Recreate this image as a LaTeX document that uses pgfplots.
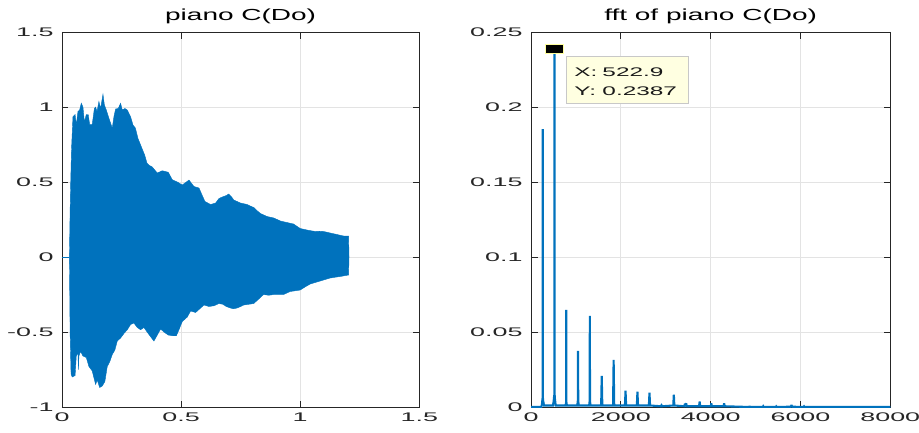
\documentclass[border=0pt]{standalone}
\usepackage{pgfplots}
\pgfplotsset{compat=1.18}
\usepackage{fontspec}
\setmainfont[FakeStretch=1.75]{Liberation Sans}
\newfontfamily\tickfont[FakeStretch=2.15]{Liberation Sans}
\newfontfamily\tipfont[FakeStretch=1.95]{Liberation Sans}

\definecolor{mblue}{HTML}{0072BD}
\definecolor{maxis}{HTML}{262626}
\definecolor{mgrid}{HTML}{E3E3E3}
\definecolor{tipbg}{HTML}{FFFFE1}
\definecolor{tipedge}{HTML}{C8C8C8}

\pgfplotsset{
  matlabstyle/.style={
    scale only axis,
    axis line style={color=maxis, line width=0.9pt},
    tick style={color=maxis, line width=0.9pt},
    major tick length=6.5pt,
    tick align=inside,
    tick pos=both,
    grid=major,
    major grid style={color=mgrid, line width=0.8pt},
    scaled ticks=false,
    /pgf/number format/assume math mode=true,
    /pgf/number format/1000 sep={},
    tick label style={font=\tickfont\fontsize{12.5}{13}\selectfont, color=maxis},
    xticklabel style={yshift=-2pt},
    yticklabel style={xshift=-5pt},
    title style={font=\fontsize{16}{17}\selectfont, color=black, yshift=-1pt},
  }
}

\begin{document}
\begin{tikzpicture}
\useasboundingbox (-62pt,-25pt) rectangle (857pt,407pt);

% ---- time-domain signal (envelope of the waveform) ----
\begin{axis}[matlabstyle,
  at={(0pt,0pt)}, anchor=south west,
  width=357.3pt, height=375pt,
  xmin=0, xmax=1.5, ymin=-1, ymax=1.5,
  xtick={0,0.5,1,1.5}, ytick={-1,-0.5,0,0.5,1,1.5},
  title={piano C(Do)}]
\addplot[mblue, line width=1pt] coordinates {(0,0) (0.031,0)};
\addplot[draw=mblue, fill=mblue, line width=0.4pt] coordinates {
 (0.031,0) (0.034,0.30) (0.036,0.46) (0.040,0.72) (0.046,0.935) (0.055,0.95)
 (0.060,0.88) (0.067,0.97) (0.074,0.98) (0.081,1.025) (0.088,1.00) (0.094,0.90)
 (0.102,0.95) (0.110,0.95) (0.116,0.885) (0.127,0.885) (0.136,0.99) (0.141,1.00)
 (0.147,0.97) (0.155,1.037) (0.162,0.99) (0.172,1.085) (0.178,1.013) (0.186,0.98)
 (0.197,0.925) (0.211,0.86) (0.218,0.935) (0.225,0.987) (0.236,0.99) (0.246,1.025)
 (0.253,0.98) (0.264,0.99) (0.274,0.98) (0.288,0.935) (0.298,0.88) (0.308,0.86)
 (0.319,0.79) (0.333,0.735) (0.347,0.68) (0.357,0.625) (0.367,0.61) (0.379,0.60)
 (0.400,0.56) (0.421,0.575) (0.446,0.565) (0.463,0.515) (0.484,0.50) (0.505,0.48)
 (0.522,0.50) (0.533,0.513) (0.554,0.47) (0.575,0.46) (0.600,0.37) (0.624,0.35)
 (0.645,0.36) (0.659,0.39) (0.673,0.40) (0.690,0.41) (0.700,0.42) (0.712,0.40)
 (0.721,0.38) (0.735,0.37) (0.749,0.36) (0.763,0.355) (0.777,0.35) (0.790,0.34)
 (0.805,0.33) (0.818,0.31) (0.833,0.29) (0.847,0.28) (0.861,0.27) (0.875,0.265)
 (0.889,0.26) (0.903,0.25) (0.917,0.24) (0.930,0.235) (0.944,0.23) (0.958,0.225)
 (0.972,0.22) (0.986,0.205) (1.000,0.19) (1.014,0.185) (1.028,0.18) (1.045,0.175)
 (1.063,0.17) (1.080,0.172) (1.098,0.17) (1.112,0.165) (1.126,0.16) (1.140,0.155)
 (1.154,0.15) (1.168,0.145) (1.182,0.14) (1.203,0.14)
 (1.205,0.00)
 (1.203,-0.12) (1.185,-0.125) (1.168,-0.13) (1.146,-0.135) (1.126,-0.14) (1.105,-0.15)
 (1.084,-0.16) (1.063,-0.17) (1.042,-0.18) (1.020,-0.20) (1.000,-0.22) (0.980,-0.225)
 (0.958,-0.23) (0.944,-0.24) (0.930,-0.25) (0.910,-0.25) (0.889,-0.25) (0.868,-0.255)
 (0.846,-0.25) (0.826,-0.28) (0.805,-0.31) (0.785,-0.315) (0.763,-0.32) (0.750,-0.33)
 (0.735,-0.34) (0.720,-0.345) (0.707,-0.34) (0.690,-0.33) (0.675,-0.315) (0.659,-0.31)
 (0.638,-0.325) (0.617,-0.33) (0.596,-0.32) (0.575,-0.35) (0.561,-0.37) (0.540,-0.36)
 (0.526,-0.40) (0.505,-0.43) (0.491,-0.485) (0.480,-0.525) (0.463,-0.525) (0.446,-0.52)
 (0.428,-0.50) (0.414,-0.48) (0.400,-0.52) (0.386,-0.56) (0.376,-0.54) (0.362,-0.51)
 (0.344,-0.47) (0.330,-0.485) (0.316,-0.47) (0.302,-0.44) (0.288,-0.45) (0.274,-0.485)
 (0.260,-0.51) (0.246,-0.54) (0.232,-0.56) (0.222,-0.62) (0.211,-0.65) (0.200,-0.70)
 (0.190,-0.73) (0.180,-0.83) (0.169,-0.86) (0.158,-0.87) (0.148,-0.82) (0.141,-0.85)
 (0.127,-0.76) (0.113,-0.73) (0.102,-0.67) (0.088,-0.66) (0.078,-0.63) (0.071,-0.66)
 (0.069,-0.75) (0.067,-0.64) (0.060,-0.66) (0.055,-0.79) (0.043,-0.80) (0.038,-0.78)
 (0.034,-0.50)
} -- cycle;
\end{axis}

% ---- magnitude spectrum ----
\begin{axis}[matlabstyle,
  at={(469pt,0pt)}, anchor=south west,
  width=359.3pt, height=375pt,
  xmin=0, xmax=8000, ymin=0, ymax=0.25,
  xtick={0,2000,4000,6000,8000},
  ytick={0,0.05,0.1,0.15,0.2,0.25},
  yticklabel style={/pgf/number format/fixed},
  title={fft of piano C(Do)}]
\addplot[mblue, line width=2.1pt, line join=miter, miter limit=2] coordinates {
 (0,0) (230,0) (245,0.002) (254,0.005) (259,0.006) (262,0.1853) (265,0.006) (272,0.004) (290,0.001)
 (490,0.001) (505,0.004) (514,0.007) (519,0.008) (522.9,0.2387) (527,0.008) (534,0.005) (550,0.001)
 (770,0.001) (781,0.003) (785,0.0647) (789,0.003) (800,0.001)
 (1030,0.001) (1042,0.004) (1047,0.0374) (1052,0.004) (1064,0.001)
 (1295,0.001) (1306,0.004) (1310,0.0607) (1314,0.004) (1325,0.001)
 (1562,0.001) (1575,0.0207) (1588,0.001)
 (1827,0.001) (1840,0.0314) (1853,0.001)
 (2092,0.001) (2105,0.0109) (2118,0.001)
 (2357,0.001) (2370,0.0102) (2383,0.001)
 (2625,0.001) (2638,0.0096) (2651,0.001)
 (2890,0.0005) (2905,0.0012) (2920,0.0005)
 (3168,0.001) (3180,0.0082) (3192,0.001)
 (3415,0.0005) (3425,0.0022) (3440,0.001) (3455,0.0025) (3468,0.0005)
 (3742,0.0005) (3755,0.0036) (3768,0.0005)
 (4003,0.0005) (4015,0.0025) (4028,0.0005)
 (4288,0.0005) (4300,0.0025) (4312,0.0005)
 (4860,0) (4870,0.0006) (4880,0)
 (5160,0) (5170,0.0005) (5180,0)
 (5450,0) (5460,0.0004) (5470,0)
 (5785,0.0002) (5800,0.0013) (5815,0.0002)
 (6070,0) (6080,0.0004) (6090,0)
 (8000,0)
};
% data tip on the strongest partial
\addplot[only marks, mark=square*,
  mark options={xscale=2, fill=black, draw=tipbg!70!yellow, line width=0.6pt},
  mark size=4.5pt] coordinates {(522.9,0.2387)};
\node[anchor=north west, xshift=11.7pt, yshift=-7pt,
  fill=tipbg, draw=tipedge, line width=0.6pt,
  text width=106pt, minimum height=47pt,
  inner xsep=8pt, inner ysep=4pt, align=left,
  font=\tipfont\fontsize{12.5}{19}\selectfont, text=black!90]
  at (axis cs:522.9,0.2387)
  {\strut\makebox[28pt][l]{X:}522.9\\\makebox[28pt][l]{Y:}0.2387};
\end{axis}
\end{tikzpicture}
\end{document}
